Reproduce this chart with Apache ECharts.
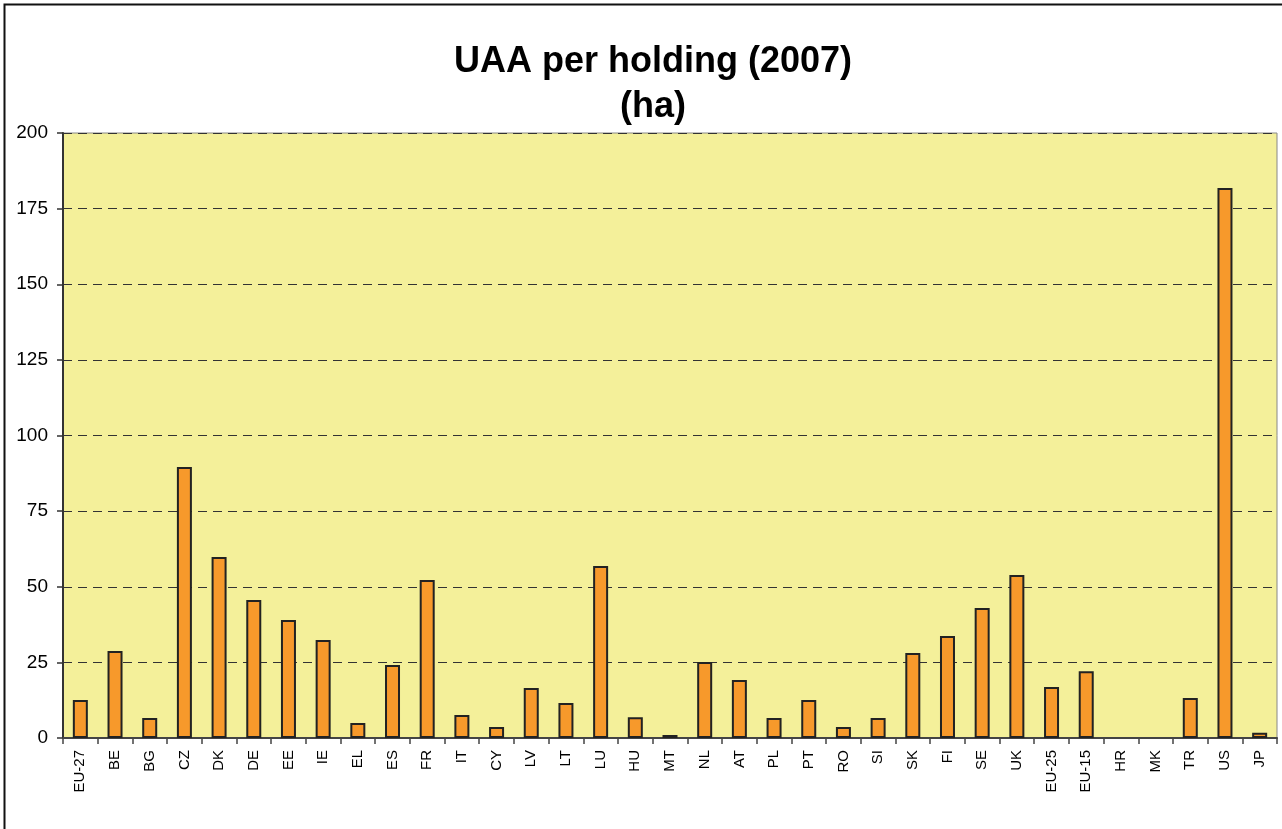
<!DOCTYPE html>
<html>
<head>
<meta charset="utf-8">
<script src="https://cdn.jsdelivr.net/npm/echarts@6/dist/echarts.min.js"></script>
<style>
  html, body { margin: 0; padding: 0; background: #fff; }
  #chart { width: 1282px; height: 829px; }
</style>
</head>
<body>
<div id="chart"></div>
<script>
// categories (countries / aggregates)
const countries = ["EU-27", "BE", "BG", "CZ", "DK", "DE", "EE", "IE", "EL", "ES", "FR", "IT", "CY", "LV", "LT", "LU", "HU", "MT", "NL", "AT", "PL", "PT", "RO", "SI", "SK", "FI", "SE", "UK", "EU-25", "EU-15", "HR", "MK", "TR", "US", "JP"];
// UAA per holding, ha (HR, MK: no data)
const uaaPerHolding = [12.6, 28.8, 6.6, 89.6, 59.8, 45.6, 39.0, 32.4, 5.0, 24.1, 52.2, 7.6, 3.6, 16.5, 11.6, 56.9, 6.9, 1.0, 25.1, 19.2, 6.6, 12.6, 3.6, 6.6, 28.1, 33.7, 43.0, 53.9, 16.9, 22.1, null, null, 13.2, 181.8, 1.7];
const yTicks = [0, 25, 50, 75, 100, 125, 150, 175, 200];

const chart = echarts.init(document.getElementById("chart"));
const option = {
  backgroundColor: "#fff",
  animation: false,
  title: {
    text: "UAA per holding (2007)\n(ha)",
    left: 648,
    top: 35,
    textAlign: "center",
    textStyle: {
      fontFamily: "Liberation Sans, Arial",
      fontSize: 36,
      fontWeight: "bold",
      color: "#000",
      lineHeight: 45,
      align: "center",
      width: 397
    }
  },
  // outer frame, cut off at the right and bottom edges
  graphic: [{
    type: "rect",
    shape: { x: 4.5, y: 4.5, width: 1300, height: 900 },
    style: { fill: null, stroke: "#111", lineWidth: 2 }
  }],
  grid: {
    left: 63,
    right: 5,
    top: 133,
    bottom: 91,
    show: true,
    backgroundColor: "#F4F09A",
    borderColor: "#888",
    borderWidth: 1
  },
  xAxis: {
    type: "category",
    data: countries,
    axisLine: { lineStyle: { color: "#444", width: 2 } },
    axisTick: { show: true, length: 6, lineStyle: { color: "#444", width: 1.5 } },
    axisLabel: {
      rotate: 90,
      interval: 0,
      margin: 12,
      fontFamily: "Liberation Sans, Arial",
      fontSize: 15,
      color: "#000"
    }
  },
  yAxis: {
    type: "value",
    min: 0,
    max: 200,
    interval: 25,
    axisLine: { show: true, lineStyle: { color: "#333", width: 2 } },
    axisTick: { show: true, length: 6, lineStyle: { color: "#333", width: 1.5 } },
    axisLabel: {
      margin: 15,
      fontFamily: "Liberation Sans, Arial",
      fontSize: 19,
      color: "#000",
      formatter: v => (yTicks.includes(v) ? String(v) : "")
    },
    splitLine: {
      show: true,
      lineStyle: { color: "#333", type: [9, 6], width: 1 }
    }
  },
  series: [{
    type: "bar",
    data: uaaPerHolding,
    barWidth: 15,
    itemStyle: {
      color: "#F7992B",
      borderColor: "#222",
      borderWidth: 2
    }
  }]
};
chart.setOption(option);
window.onresize = () => {
  chart.resize();
};
</script>
</body>
</html>
